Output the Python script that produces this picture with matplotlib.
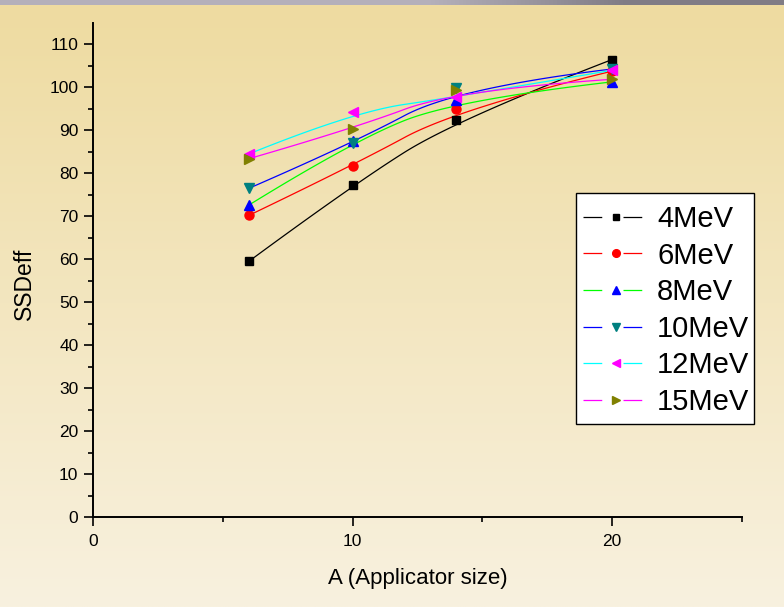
import matplotlib
matplotlib.use('Agg')
import matplotlib.pyplot as plt
from matplotlib.lines import Line2D
from matplotlib.patches import Rectangle
import numpy as np

# applicator sizes and SSDeff values
sizes = [6, 10, 14, 20]
labels = ['4MeV', '6MeV', '8MeV', '10MeV', '12MeV', '15MeV']
ssd_4 = [59.5, 77.3, 92.5, 106.5]
ssd_6 = [70.2, 81.8, 94.9, 103.8]
ssd_8 = [72.6, 87.5, 97.1, 101.3]
ssd_10 = [76.5, 87.0, 99.9, 104.3]
ssd_12 = [84.5, 94.3, 97.8, 104.0]
ssd_15 = [83.4, 90.4, 99.4, 101.9]
series = [ssd_4, ssd_6, ssd_8, ssd_10, ssd_12, ssd_15]

line_colors = ['#000000', '#ff0000', '#00ff00', '#0000ff', '#00ffff', '#ff00ff']
marker_colors = ['#000000', '#ff0000', '#0000ff', '#008080', '#ff00ff', '#808000']
markers = ['s', 'o', '^', 'v', '<', '>']
msizes = [5.5, 6.5, 7, 7, 7, 7]


def bspline_curve(x, y, n=60):
    # clamped quadratic B-spline with the points as control points
    # (Origin's "B-Spline" connect style)
    P = np.column_stack([x, y]).astype(float)
    k = len(P)
    s = np.linspace(0, 1, n)[:, None]
    parts = []
    for i in range(k - 2):
        a = P[0] if i == 0 else (P[i] + P[i + 1]) / 2
        c = P[i + 1]
        b = P[-1] if i == k - 3 else (P[i + 1] + P[i + 2]) / 2
        parts.append((1 - s) ** 2 * a + 2 * s * (1 - s) * c + s ** 2 * b)
    pts = np.vstack(parts)
    return pts[:, 0], pts[:, 1]


fig = plt.figure(figsize=(7.84, 6.07), dpi=100)

# beige gradient background with grey strip on top
bg = fig.add_axes([0, 0, 1, 1], zorder=-10)
bg.axis('off')
top = np.array([238, 219, 160]) / 255.0
bot = np.array([248, 241, 223]) / 255.0
t = np.linspace(0, 1, 300)[:, None]
grad = top + (bot - top) * t
img = np.repeat(grad[:, None, :], 10, axis=1)
bg.imshow(img, aspect='auto', extent=[0, 1, 0, 1])
left_g = np.array([180, 176, 186]) / 255.0
right_g = np.array([128, 124, 133]) / 255.0
u = np.clip((np.linspace(0, 1, 200) - 0.55) / 0.25, 0, 1)[:, None]
strip = left_g + (right_g - left_g) * u
bg.imshow(strip[None, :, :], aspect='auto', extent=[0, 1, 1 - 5 / 607, 1])
bg.set_xlim(0, 1)
bg.set_ylim(0, 1)

ax = fig.add_axes([93 / 784, 1 - 517 / 607, (742 - 93) / 784, (517 - 23) / 607])
ax.patch.set_alpha(0)

handles = []
for i, vals in enumerate(series):
    xs, ys = bspline_curve(sizes, vals)
    ax.plot(xs, ys, color=line_colors[i], lw=0.9, zorder=2)
    ax.plot(sizes, vals, linestyle='none', marker=markers[i], ms=msizes[i],
            color=marker_colors[i], mec=marker_colors[i], zorder=3)
    handles.append(Line2D([], [], color=line_colors[i], lw=0.9,
                          linestyle=(0, (15, 17)), marker=markers[i],
                          ms=msizes[i] * 0.85, mfc=marker_colors[i],
                          mec=marker_colors[i]))

ax.set_xlim(0, 25)
ax.set_ylim(0, 115)
ax.set_xticks([0, 10, 20])
ax.set_xticks([5, 15, 25], minor=True)
ax.set_yticks(range(0, 111, 10))
ax.set_yticks(range(5, 115, 10), minor=True)
for s in ['top', 'right']:
    ax.spines[s].set_visible(False)
for s in ['left', 'bottom']:
    ax.spines[s].set_linewidth(1.4)
ax.tick_params(which='major', direction='out', length=6.5, width=1.2,
               labelsize=12.5)
ax.tick_params(axis='x', which='major', pad=6)
ax.tick_params(axis='y', which='major', pad=4)
ax.tick_params(which='minor', direction='out', length=3.5, width=1.2)
for lab in ax.get_xticklabels() + ax.get_yticklabels():
    lab.set_family('Liberation Sans')

ax.set_xlabel('A (Applicator size)', fontsize=16, family='Liberation Sans')
ax.xaxis.set_label_coords(0.5, -0.103)
ax.set_ylabel('SSDeff', fontsize=16.5, family='Liberation Sans')
ax.yaxis.set_label_coords(-0.088, 0.473)

# legend box drawn separately so the padding can match the original
ax.add_patch(Rectangle((576 / 784, 1 - 424 / 607), 178 / 784, 231 / 607,
                       transform=fig.transFigure, facecolor='white',
                       edgecolor='black', lw=1.0, zorder=4, clip_on=False))
leg = ax.legend(handles, labels, loc='upper left',
                bbox_to_anchor=(583 / 784, 1 - 205 / 607),
                bbox_transform=fig.transFigure, borderaxespad=0,
                prop={'family': 'Liberation Sans', 'size': 21},
                handlelength=2.23, handletextpad=0.31, labelspacing=0.295,
                borderpad=0, frameon=False)
leg.set_zorder(5)

fig.savefig('out.png', dpi=100)
